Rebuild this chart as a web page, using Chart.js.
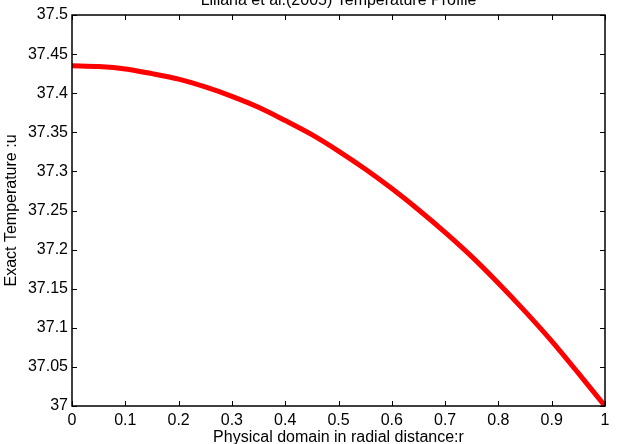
<!DOCTYPE html>
<html>
<head>
<meta charset="utf-8">
<script src="https://cdn.jsdelivr.net/npm/chart.js@4"></script>
<style>
  html, body { margin: 0; padding: 0; background: #fff; }
  #wrap { width: 620px; height: 444px; }
</style>
</head>
<body>
<div id="wrap"><canvas id="c" width="620" height="444"></canvas></div>
<script>
// radial distance r and exact temperature u
const radius = [0, 0.05, 0.1, 0.15, 0.2, 0.25, 0.3, 0.35, 0.4, 0.45, 0.5, 0.55, 0.6, 0.65, 0.7, 0.75, 0.8, 0.85, 0.9, 0.95, 1];
const temperature = [37.435, 37.434, 37.431, 37.425, 37.418, 37.408, 37.396, 37.382, 37.365, 37.347, 37.326,
                     37.303, 37.278, 37.251, 37.222, 37.191, 37.157, 37.121, 37.083, 37.042, 37.000];
const xTicks = [0, 0.1, 0.2, 0.3, 0.4, 0.5, 0.6, 0.7, 0.8, 0.9, 1];
const yTicks = [37, 37.05, 37.1, 37.15, 37.2, 37.25, 37.3, 37.35, 37.4, 37.45, 37.5];

const FONT = 'Liberation Sans, Arial, sans-serif';

// matlab-ish box with inward ticks on all four sides
const boxTicks = {
    id: 'boxTicks',
    afterDraw(chart) {
        const { ctx, chartArea: a, scales } = chart;
        ctx.save();
        ctx.strokeStyle = '#000';
        ctx.lineWidth = 1.5;
        ctx.strokeRect(a.left, a.top, a.right - a.left, a.bottom - a.top);
        ctx.lineWidth = 1;
        ctx.beginPath();
        xTicks.forEach(v => {
            const x = Math.round(scales.x.getPixelForValue(v)) + 0.5;
            ctx.moveTo(x, a.bottom); ctx.lineTo(x, a.bottom - 5);
            ctx.moveTo(x, a.top); ctx.lineTo(x, a.top + 5);
        });
        yTicks.forEach(v => {
            const y = Math.round(scales.y.getPixelForValue(v)) + 0.5;
            ctx.moveTo(a.left, y); ctx.lineTo(a.left + 5, y);
            ctx.moveTo(a.right, y); ctx.lineTo(a.right - 5, y);
        });
        ctx.stroke();
        // title sits partly above the canvas, as in the original
        ctx.fillStyle = '#000';
        ctx.font = '16px ' + FONT;
        ctx.textAlign = 'center';
        ctx.textBaseline = 'alphabetic';
        ctx.fillText('Liliana et al.(2005) Temperature Profile', (a.left + a.right) / 2, 5);
        ctx.restore();
    }
};

new Chart(document.getElementById('c'), {
    type: 'line',
    data: {
        datasets: [{
            data: radius.map((r, i) => ({ x: r, y: temperature[i] })),
            borderColor: '#ff0000',
            borderWidth: 5,
            pointRadius: 0,
            tension: 0.3,
            fill: false
        }]
    },
    options: {
        responsive: false,
        animation: false,
        layout: { padding: { top: 15, right: 15, left: 0, bottom: 0 } },
        plugins: { legend: { display: false }, tooltip: { enabled: false } },
        scales: {
            x: {
                type: 'linear', min: 0, max: 1,
                afterBuildTicks: s => { s.ticks = xTicks.map(v => ({ value: v })); },
                afterFit: s => { s.height = 38; },
                grid: { display: false, drawTicks: false },
                border: { display: false },
                ticks: { color: '#000', font: { family: FONT, size: 16 }, padding: 5, maxRotation: 0,
                         callback: v => String(v) },
                title: { display: true, text: 'Physical domain in radial distance:r', color: '#000',
                         font: { family: FONT, size: 16 }, padding: { top: 0, bottom: -3 } }
            },
            y: {
                type: 'linear', min: 37, max: 37.5,
                afterBuildTicks: s => { s.ticks = yTicks.map(v => ({ value: v })); },
                afterFit: s => { s.width = 72; },
                grid: { display: false, drawTicks: false },
                border: { display: false },
                ticks: { color: '#000', font: { family: FONT, size: 16 }, padding: 4,
                         callback: v => String(+v.toFixed(2)) },
                title: { display: true, text: 'Exact Temperature :u', color: '#000',
                         font: { family: FONT, size: 16 }, padding: { top: 2, bottom: 0 } }
            }
        }
    },
    plugins: [boxTicks]
});
</script>
</body>
</html>
